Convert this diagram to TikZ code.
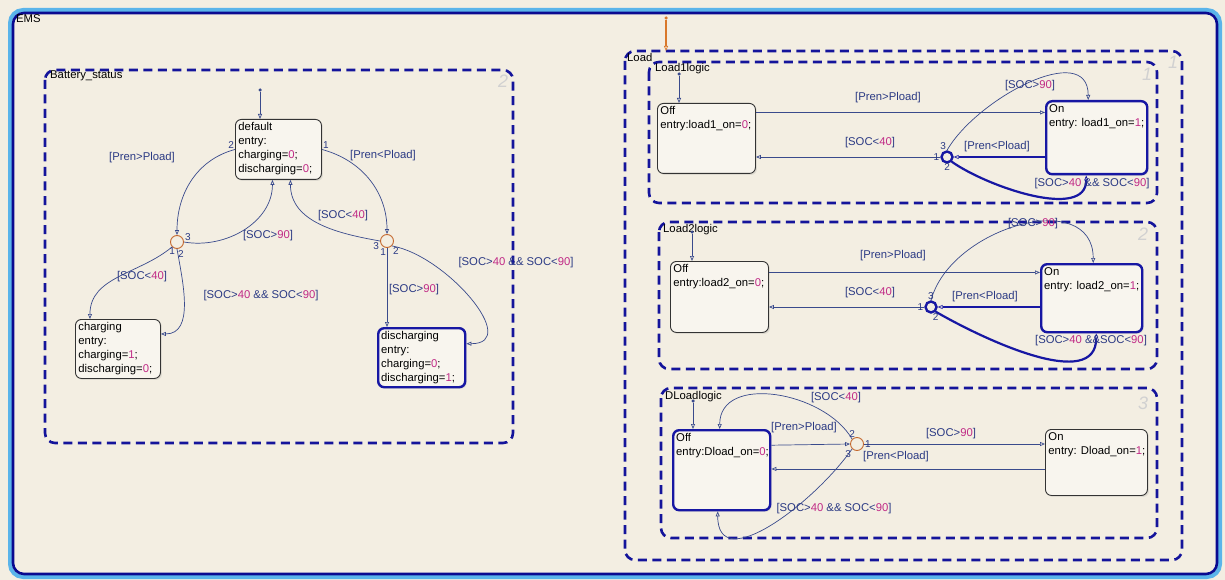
\documentclass[tikz,border=0pt]{standalone}
\usepackage{fontspec}
\setmainfont{Liberation Sans}
\usetikzlibrary{arrows.meta,shadows}

\definecolor{bgcol}{HTML}{F3EEE2}
\definecolor{stfill}{HTML}{F8F5EE}
\definecolor{navy}{HTML}{14149B}
\definecolor{trcol}{HTML}{394A8C}
\definecolor{lblcol}{HTML}{2B3A84}
\definecolor{mag}{HTML}{C02A86}
\definecolor{juncol}{HTML}{C4692F}
\definecolor{actblue}{HTML}{1717A3}
\definecolor{emsdark}{HTML}{0A0A90}
\definecolor{emslight}{HTML}{5AB4EA}
\definecolor{initor}{HTML}{D9782A}

\newcommand{\mg}[1]{\textcolor{mag}{#1}}
\newcommand{\stbody}[3]{\begin{minipage}[t][#2][t]{#1}\raggedright #3\end{minipage}}

\begin{document}
\begin{tikzpicture}[x=1pt,y=-1pt,
    state/.style={draw=black!80, line width=0.9pt, fill=stfill, rounded corners=6pt, inner sep=3pt, anchor=north west,
        font=\fontsize{11.3}{14}\selectfont, drop shadow={opacity=0.18, shadow xshift=1.5pt, shadow yshift=-1.5pt}},
    active/.style={state, draw=actblue, line width=2.4pt},
    junc/.style={circle, draw=juncol, line width=0.9pt, minimum size=13pt, inner sep=0pt},
    ajunc/.style={junc, draw=actblue, line width=2.4pt, minimum size=11pt},
    dot/.style={circle, fill=trcol, inner sep=0pt, minimum size=3.5pt},
    box/.style={draw=navy, line width=2.6pt, dash pattern=on 9pt off 5.5pt, rounded corners=10pt},
    tr/.style={draw=trcol, line width=0.7pt, -{Triangle[open,length=5pt,width=4pt]}},
    atr/.style={draw=actblue, line width=2.2pt, -{Triangle[open,length=5pt,width=4pt,line width=0.7pt]}},
    lbl/.style={text=lblcol, inner sep=0pt, font=\fontsize{11.3}{13}\selectfont},
    num/.style={text=lblcol, inner sep=0.8pt, font=\fontsize{10}{11}\selectfont},
    grey/.style={text=black!18, font=\fontsize{18}{18}\selectfont\itshape},
    title/.style={anchor=north west, inner sep=0pt, font=\fontsize{11.3}{13}\selectfont}
]
\fill[bgcol] (0,0) rectangle (1225,580);
\useasboundingbox (0,0) rectangle (1225,580);

\draw[line width=4pt, emslight, rounded corners=13pt] (10,10) rectangle (1220,577);
\draw[line width=2.6pt, emsdark, rounded corners=11pt] (13,13) rectangle (1217,574);
\node[title] (ems) at (16,14) {EMS};

\foreach [count=\k] \gx/\gy/\gn in {503/81/2, 1173/62/1, 1147/74/1, 1143/234/2, 1143/403/3}
    \node[grey] (g\k) at (\gx,\gy) {\gn};

\draw[box] (45,70) rectangle (513,443);
\node[title] (bat) at (50,71) {Battery\_status};

\node[dot] (i0) at (260,90) {};
\node[state] (def) at (235,119) {\stbody{80pt}{54pt}{default\\entry:\\charging=\mg{0};\\discharging=\mg{0};}};
\node[state] (chg) at (75,319) {\stbody{79pt}{53pt}{charging\\entry:\\charging=\mg{1};\\discharging=\mg{0};}};
\node[active] (dis) at (377,327) {\stbody{81pt}{53pt}{discharging\\entry:\\charging=\mg{0};\\discharging=\mg{1};}};
\node[junc] (jl) at (177,242) {};
\node[junc] (jr) at (387,241) {};

\draw[tr] (i0) -- (i0 |- def.north);
\draw[tr] (def.west) to[out=195,in=90] node[num,pos=0,above left]{2} (jl.north);
\draw[tr] (def.east) to[out=-15,in=90] node[num,pos=0,above right]{1} (jr.north);
\draw[tr] (jl.east) to[out=-10,in=-90] node[num,pos=0,above right]{3} ([xshift=-6pt]def.south);
\draw[tr] (jr.west) to[out=170,in=-90] node[num,pos=0,below left]{3} ([xshift=12pt]def.south);
\draw[tr] (jl.south west) to[out=220,in=90] node[num,pos=0,below]{1} ([xshift=-28pt]chg.north);
\draw[tr] (jl.south) to[out=-80,in=0] node[num,pos=0,below right]{2} ([yshift=15pt]chg.east);
\draw[tr] (jr.south) -- node[num,pos=0,below left]{1} (jr.south |- dis.north);
\draw[tr] (jr.south east) to[out=-10,in=0,looseness=1.15] node[num,pos=0,below right]{2} ([yshift=14pt]dis.east);

\draw[box] (625,51) rectangle (1182,560);
\node[title] (ld) at (627,53) {Load};
\node[dot, fill=initor] (i1) at (666,18) {};
\coordinate (ldtop) at (666,51);
\draw[initor, line width=2.2pt, -{Triangle[open,length=5pt,width=4pt,line width=0.7pt]}] (i1) -- (ldtop);

\draw[box] (649,62) rectangle (1157,203);
\node[title] (l1) at (655,63) {Load1logic};
\node[dot] (i2) at (679,74) {};
\node[state] (off1) at (657,103) {\stbody{92pt}{64pt}{Off\\entry:load1\_on=\mg{0};}};
\node[active] (on1) at (1045,100) {\stbody{95pt}{67pt}{On\\entry: load1\_on=\mg{1};}};
\node[ajunc] (jn1) at (947,157) {};
\draw[tr] (i2) -- (i2 |- off1.north);
\draw[tr] ([yshift=26pt]off1.east) -- ([yshift=26pt]off1.east -| on1.west);
\draw[atr] (jn1 -| on1.west) -- (jn1.east);
\draw[tr] (jn1.west) -- node[num,pos=0,left]{1} (jn1 -| off1.east);
\draw[tr] (jn1.north) to[out=60,in=90,looseness=1.03] node[num,pos=0,above left]{3} ([xshift=-8.5pt]on1.north);
\draw[atr] (jn1.south east) to[out=-35,in=-90,looseness=0.85] node[num,pos=0,below left]{2} ([xshift=-10.5pt]on1.south);

\draw[box] (659,222) rectangle (1157,369);
\node[title] (l2) at (663,224) {Load2logic};
\node[dot] (i3) at (692,232) {};
\node[state] (off2) at (670,261) {\stbody{92pt}{65pt}{Off\\entry:load2\_on=\mg{0};}};
\node[active] (on2) at (1040,263) {\stbody{95pt}{62pt}{On\\entry: load2\_on=\mg{1};}};
\node[ajunc] (jn2) at (931,307) {};
\draw[tr] (i3) -- (i3 |- off2.north);
\draw[tr] ([yshift=24.5pt]off2.east) -- ([yshift=24.5pt]off2.east -| on2.west);
\draw[atr] (jn2 -| on2.west) -- (jn2.east);
\draw[tr] (jn2.west) -- node[num,pos=0,left]{1} (jn2 -| off2.east);
\draw[tr] (jn2.north) to[out=75,in=90,looseness=1.17] node[num,pos=0,above]{3} ([xshift=1.5pt]on2.north);
\draw[atr] (jn2.south east) to[out=-30,in=-90,looseness=0.92] node[num,pos=0,below]{2} ([xshift=4.5pt]on2.south);

\draw[box] (661,388) rectangle (1157,538);
\node[title] (l3) at (665,391) {DLoadlogic};
\node[dot] (i4) at (693,401) {};
\node[active] (off3) at (672,429) {\stbody{91pt}{74pt}{Off\\entry:Dload\_on=\mg{0};}};
\node[state] (on3) at (1045,429) {\stbody{96pt}{60pt}{On\\\mbox{entry: Dload\_on=\mg{1};}}};
\node[junc] (jd) at (857,444) {};
\draw[tr] (i4) -- (i4 |- off3.north);
\draw[tr] ([yshift=25pt]off3.east) -- (jd.west);
\draw[tr] (jd.east) -- node[num,pos=0,right]{1} (jd -| on3.west);
\draw[tr] ([yshift=-6.5pt]on3.west) -- ([yshift=-6.5pt]on3.west -| off3.east);
\draw[tr] (jd.north west) to[out=120,in=90,looseness=1.07] node[num,pos=0,above]{2} ([xshift=-2pt]off3.north);
\draw[tr] (jd.south west) to[out=235,in=-90,looseness=1.13] node[num,pos=0,below left]{3} ([xshift=-4pt]off3.south);

\foreach [count=\k] \lx/\ly/\lt in {
    142/158/{[Pren>Pload]}, 383/156/{[Pren<Pload]}, 268/236/{[SOC>\mg{90}]}, 343/216/{[SOC<\mg{40}]},
    142/277/{[SOC<\mg{40}]}, 261/296/{[SOC>\mg{40} \&\& SOC<\mg{90}]}, 414/290/{[SOC>\mg{90}]},
    516/263/{[SOC>\mg{40} \&\& SOC<\mg{90}]},
    888/98/{[Pren>Pload]}, 870/143/{[SOC<\mg{40}]}, 997/147/{[Pren<Pload]}, 1030/86/{[SOC>\mg{90}]},
    1092/184/{[SOC>\mg{40} \&\& SOC<\mg{90}]},
    893/256/{[Pren>Pload]}, 870/293/{[SOC<\mg{40}]}, 985/297/{[Pren<Pload]}, 1033/224/{[SOC>\mg{90}]},
    1091/341/{[SOC>\mg{40} \&\&SOC<\mg{90}]},
    804/428/{[Pren>Pload]}, 836/398/{[SOC<\mg{40}]}, 951/434/{[SOC>\mg{90}]}, 896/457/{[Pren<Pload]},
    834/509/{[SOC>\mg{40} \&\& SOC<\mg{90}]}}
    \node[lbl] (t\k) at (\lx,\ly) {\lt};
\end{tikzpicture}
\end{document}
